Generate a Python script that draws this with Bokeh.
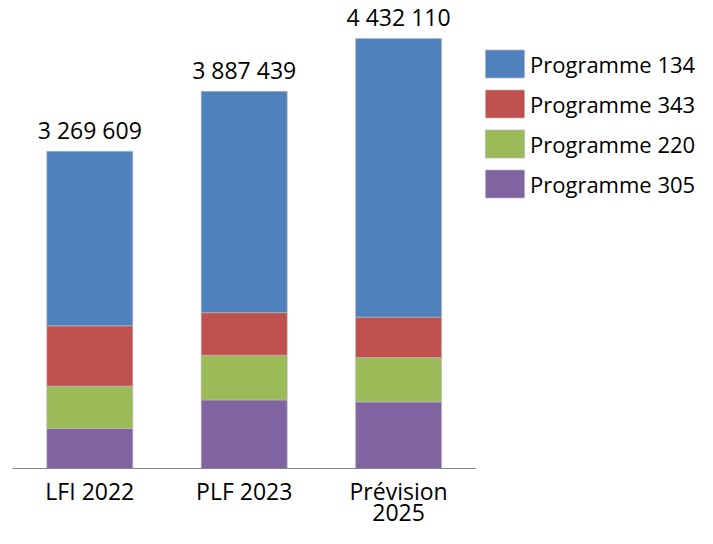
from bokeh.plotting import figure
from bokeh.models import Range1d, Legend, LegendItem, ColumnDataSource
from bokeh.core.properties import value
from bokeh.embed import file_html
from bokeh.resources import INLINE

# ---- data ----
categories = ["LFI 2022", "PLF 2023", "Prévision 2025"]
category_labels = ["LFI 2022", "PLF 2023", "Prévision\n2025"]
series_names = ["Programme 305", "Programme 220", "Programme 343", "Programme 134"]  # bottom -> top
prog_305 = [413000, 707000, 687000]
prog_220 = [436000, 460000, 457000]
prog_343 = [622000, 439000, 416000]
prog_134 = [1798609, 2281439, 2872110]
colors = ["#8064A2", "#9BBB59", "#C0504D", "#4F81BD"]

totals = [a + b + c + d for a, b, c, d in zip(prog_305, prog_220, prog_343, prog_134)]
total_labels = [f"{t:,}".replace(",", " ") for t in totals]
xs = list(range(len(categories)))
label_line1 = [lab.split("\n")[0] for lab in category_labels]
label_line2 = [lab.split("\n")[1] if "\n" in lab else "" for lab in category_labels]

W, H = 697, 528
base_px = 468          # baseline from top of canvas
units_per_px = 10307
cat_px = 154.4         # width of one category slot
first_center_px = 89.3

x_start = -first_center_px / cat_px
y_start = -(H - base_px) * units_per_px
y_end = base_px * units_per_px

p = figure(width=W, height=H, output_backend="svg", toolbar_location=None,
           x_range=Range1d(x_start, x_start + W / cat_px),
           y_range=Range1d(y_start, y_end),
           x_axis_type=None, y_axis_type=None, min_border=0)
p.outline_line_color = None
p.xgrid.visible = False
p.ygrid.visible = False
p.background_fill_color = "white"
p.border_fill_color = "white"

source = ColumnDataSource(dict(x=xs, p305=prog_305, p220=prog_220, p343=prog_343, p134=prog_134))
renderers = p.vbar_stack(["p305", "p220", "p343", "p134"], x="x", width=0.557,
                         fill_color=colors, line_color="#b8b8b8", line_alpha=0.7,
                         line_width=1, source=source)

# baseline (category axis line)
p.segment(x0=[xs[0] - 0.5], y0=[0], x1=[xs[-1] + 0.5], y1=[0], line_color="#868686", line_width=1)

# total labels
p.text(x=xs, y=totals, text=total_labels, text_align="center", text_baseline="alphabetic",
       y_offset=-21, text_font=value("Open Sans"), text_font_size="23px", text_color="black")

# category labels (two lines)
p.text(x=xs, y=[0] * len(xs), text=label_line1, text_align="center", text_baseline="alphabetic",
       y_offset=22, text_font=value("Open Sans"), text_font_size="23px", text_color="black")
p.text(x=xs, y=[0] * len(xs), text=label_line2, text_align="center", text_baseline="alphabetic",
       y_offset=44, text_font=value("Open Sans"), text_font_size="23px", text_color="black")

items = [LegendItem(label=name, renderers=[r]) for name, r in zip(series_names, renderers)]
items = items[::-1]
legend = Legend(items=items, location=(480, 327), orientation="vertical",
                glyph_width=49, glyph_height=35, label_height=35, spacing=5,
                padding=0, margin=0, border_line_color=None, background_fill_alpha=0,
                label_standoff=1, label_text_font="Open Sans", label_text_font_size="22px",
                label_text_color="black")
p.add_layout(legend)

open("out.html", "w").write(file_html(p, INLINE))
